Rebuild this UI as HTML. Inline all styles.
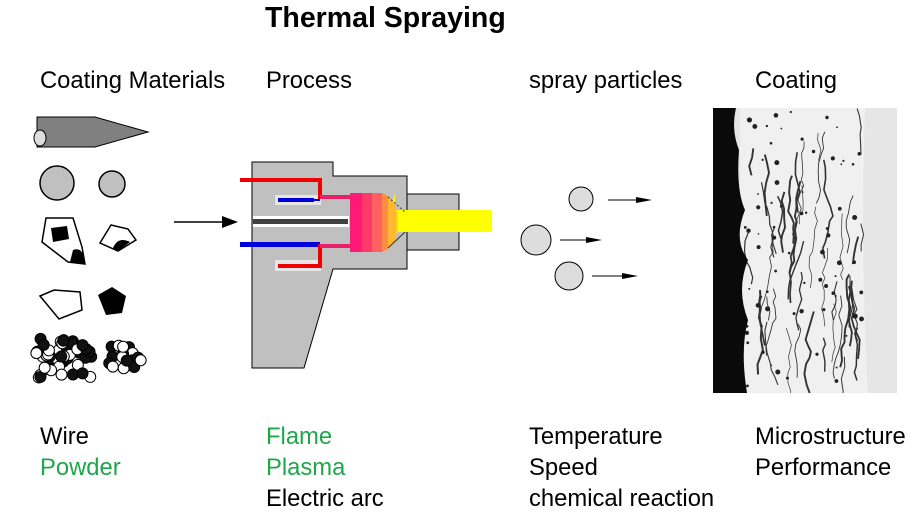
<!DOCTYPE html>
<html><head><meta charset="utf-8"><style>
html,body{margin:0;padding:0;background:#fff;}
body{width:924px;height:515px;overflow:hidden;position:relative;font-family:"Liberation Sans",sans-serif;}
.t{position:absolute;font-size:23.8px;color:#000;white-space:nowrap;line-height:1;}
.g{color:#1fa64b;}
</style></head><body>
<svg width="924" height="515" style="position:absolute;left:0;top:0">
<defs><clipPath id="cp"><rect x="713" y="108" width="184" height="285"/></clipPath></defs>
<polygon points="37,117 95,117 148,132 95,147 37,147" fill="#808080" stroke="#000"/>
<ellipse cx="40" cy="138" rx="6" ry="8" fill="#ddd" stroke="#000"/>
<circle cx="57" cy="183" r="17" fill="#c0c0c0" stroke="#000" stroke-width="1.5"/>
<circle cx="112" cy="184" r="13" fill="#c0c0c0" stroke="#000" stroke-width="1.5"/>
<polygon points="46,218 73,218 82,247 85,264 68,262 42,242" fill="#fff" stroke="#000" stroke-width="1.5"/>
<polygon points="51,228 67,226 69,239 53,242" fill="#000"/>
<path d="M73,250 Q84,246 85,264 L70,262 Z" fill="#000"/>
<polygon points="100,243 111,225 128,229 136,240 118,251" fill="#fff" stroke="#000" stroke-width="1.5"/>
<path d="M113,248 Q118,236 130,242 L118,251 Z" fill="#000"/>
<polygon points="40,296 54,290 80,292 82,310 59,319" fill="#fff" stroke="#000" stroke-width="1.5"/>
<polygon points="98,295 112,287 126,296 122,313 106,315" fill="#000"/>
<g id="pw"></g>
<line x1="174" y1="222" x2="225" y2="222" stroke="#000" stroke-width="1.5"/>
<polygon points="238,222 222,216 222,228" fill="#000"/>
<path d="M252,162 L333,162 L333,176 L407,176 L407,269 L333,269 L304,368 L252,368 Z" fill="#c0c0c0" stroke="#000"/>
<rect x="407" y="194" width="52" height="56" fill="#c0c0c0" stroke="#000"/>
<rect x="253" y="216" width="96" height="11" fill="#fff"/>
<rect x="253" y="219" width="95" height="5" fill="#404040"/>
<rect x="275" y="195" width="46" height="10" fill="#fff" opacity=".6"/>
<rect x="275" y="260" width="46" height="11" fill="#fff" opacity=".6"/>
<polygon points="395,210 492,210 492,232 395,232 380,252 395,193" fill="#ffff00"/>
<path d="M350,193 L380,193 L398,212 L398,232 L380,252 L350,252 Z" fill="#ffd21e"/>
<rect x="350" y="193" width="12" height="59" fill="#ff1a78"/>
<rect x="362" y="193" width="10" height="59" fill="#ff3a6a"/>
<rect x="372" y="193" width="10" height="59" fill="#ff6060"/>
<path d="M382,193 L388,196 L388,249 L382,252 Z" fill="#ff8c40"/>
<path d="M388,196 L396,206 L396,240 L388,249 Z" fill="#ffb830"/>
<line x1="388" y1="197" x2="405" y2="212" stroke="#333" stroke-width="1" stroke-dasharray="2,2"/>
<line x1="388" y1="248" x2="405" y2="232" stroke="#333" stroke-width="1"/>
<path d="M240,180 L320,180 L320,197 L350,197" fill="none" stroke="#ee0000" stroke-width="4"/>
<path d="M320,197 L350,197" stroke="#e8206a" stroke-width="4"/>
<rect x="278" y="198" width="36" height="4" fill="#0000dd"/>
<rect x="314" y="199" width="6" height="2" fill="#0000dd"/>
<rect x="240" y="242" width="80" height="5" fill="#0000dd"/>
<path d="M278,266 L320,266 L320,246 L350,246" fill="none" stroke="#ee0000" stroke-width="4"/>
<path d="M320,246 L350,246" stroke="#e8206a" stroke-width="4"/>
<circle cx="581" cy="199" r="12" fill="#ddd" stroke="#000"/>
<circle cx="536" cy="240" r="15" fill="#ddd" stroke="#000"/>
<circle cx="569" cy="276" r="14" fill="#ddd" stroke="#000"/>
<line x1="608" y1="200" x2="640" y2="200" stroke="#000"/><polygon points="652,200 636,197 636,203" fill="#000"/>
<line x1="560" y1="240" x2="590" y2="240" stroke="#000"/><polygon points="602,240 586,237 586,243" fill="#000"/>
<line x1="592" y1="276" x2="626" y2="276" stroke="#000"/><polygon points="638,276 622,273 622,279" fill="#000"/>
<rect x="713" y="108" width="184" height="285" fill="#e6e6e6"/>
<path d="M740,108 L865,108 Q860,250 868,393 L740,393 Z" fill="#f0f0f0"/>
<g id="tx" fill="none" stroke="#333" clip-path="url(#cp)"></g>
<path d="M713,108 L736,108 Q731,130 739,150 Q736,190 745,210 Q733,240 748,260 Q736,290 748,320 Q740,350 747,393 L713,393 Z" fill="#0a0a0a"/>
</svg>
<div class="t" style="left:265px;top:4px;font-size:28.5px;font-weight:bold">Thermal Spraying</div>
<div class="t" style="left:40px;top:69px">Coating Materials</div>
<div class="t" style="left:266px;top:69px">Process</div>
<div class="t" style="left:529px;top:69px">spray particles</div>
<div class="t" style="left:755px;top:69px">Coating</div>
<div class="t" style="left:40px;top:425px">Wire</div>
<div class="t g" style="left:40px;top:456px">Powder</div>
<div class="t g" style="left:266px;top:425px">Flame</div>
<div class="t g" style="left:266px;top:456px">Plasma</div>
<div class="t" style="left:266px;top:487px">Electric arc</div>
<div class="t" style="left:529px;top:425px">Temperature</div>
<div class="t" style="left:529px;top:456px">Speed</div>
<div class="t" style="left:529px;top:487px">chemical reaction</div>
<div class="t" style="left:755px;top:425px">Microstructure</div>
<div class="t" style="left:755px;top:456px">Performance</div>
<script>
var s=7;function r(){s=(s*9301+49297)%233280;return s/233280;}
var ns="http://www.w3.org/2000/svg",pw=document.getElementById("pw");
function blob(x0,y0,w,h,n){for(var i=0;i<n;i++){var c=document.createElementNS(ns,"circle");c.setAttribute("cx",x0+r()*w);c.setAttribute("cy",y0+r()*h);c.setAttribute("r",5.5);c.setAttribute("fill",r()<0.55?"#111":"#fff");c.setAttribute("stroke","#000");pw.appendChild(c);}}
blob(36,338,56,42,44);blob(109,345,32,24,18);
var tx=document.getElementById("tx");
for(var k=0;k<45;k++){var x=745+r()*118,y=108+r()*250,len=20+r()*70,d="M"+x.toFixed(1)+","+y.toFixed(1),y1=y+len;while(y<y1){y+=5+r()*7;x+=(r()-0.5)*7;d+=" L"+x.toFixed(1)+","+y.toFixed(1);}
var p=document.createElementNS(ns,"path");p.setAttribute("d",d);p.setAttribute("stroke-width",(0.7+r()*1.3).toFixed(1));tx.appendChild(p);}
for(var k=0;k<70;k++){var c=document.createElementNS(ns,"circle");c.setAttribute("cx",745+r()*118);c.setAttribute("cy",110+r()*280);c.setAttribute("r",(0.8+r()*1.8).toFixed(1));c.setAttribute("fill","#222");c.setAttribute("stroke","none");tx.appendChild(c);}
</script>
</body></html>
